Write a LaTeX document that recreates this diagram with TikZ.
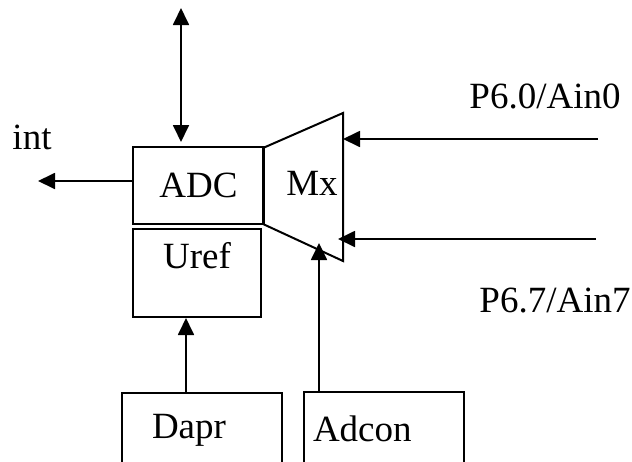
\documentclass[tikz,border=0pt]{standalone}
\usepackage{fontspec}
\setmainfont{Liberation Serif}
\usetikzlibrary{positioning, calc, arrows.meta}

\begin{document}
\begin{tikzpicture}[x=0.5pt, y=-0.5pt, line width=1pt,
   font=\fontsize{18.5}{22}\selectfont,
   arr/.style={-{Triangle[length=8.5pt, width=8pt]}, line width=0.9pt},
   blk/.style={draw, inner sep=0pt}]
   \clip (0,0) rectangle (632,461);

   % Blocks
   \node[blk, minimum width=65.5pt, minimum height=38.5pt] (adc) at (198.5,185.5) {ADC};
   \node[blk, minimum width=64pt, minimum height=44pt] (uref) at (197,273) {};
   \node[anchor=base] (ureft) at (197,268) {Uref};
   \node[blk, minimum width=80pt, minimum height=37pt, text width=50pt, inner xsep=15pt,
         align=left] (dapr) at (202,430) {Dapr};
   \node[blk, minimum width=80pt, minimum height=37pt, text width=71pt, inner xsep=4.5pt,
         align=left] (adcon) at (384,428.5) {Adcon};

   % Multiplexer
   \coordinate (mtl) at (263,148);
   \coordinate (mtr) at (343,113);
   \coordinate (mbr) at (343,261);
   \coordinate (mbl) at (263,224);
   \draw (mtl) -- (mtr) -- (mbr) -- (mbl) -- cycle;
   \node[anchor=base] (mx) at (312,195) {Mx};

   % Free ends
   \coordinate (bus) at (181,8);
   \coordinate (intend) at (38,181);
   \coordinate (pin0) at (598,139);
   \coordinate (pin7) at (596,239);
   \coordinate (adcin) at (319,243);

   % Labels
   \node[anchor=base] (intl) at (32,149) {int};
   \node[anchor=base] (p0l) at (545,108) {P6.0/Ain0};
   \node[anchor=base] (p7l) at (555,312) {P6.7/Ain7};

   % Connectors
   \draw[arr, {Triangle[length=8.5pt, width=8pt]}-{Triangle[length=8.5pt, width=8pt]}]
      (bus) -- (bus |- adc.north) [shorten >=2pt];
   \draw[arr] (adc.west |- intend) -- (intend);
   \draw[arr] (pin0) -- (pin0 -| mtr);
   \draw[arr] (pin7) -- ($(pin7 -| mtr)+(-5,0)$);
   \draw[arr] (adcon.north -| adcin) -- (adcin);
   \draw[arr] (dapr.north -| 186,0) -- (uref.south -| 186,0);
\end{tikzpicture}
\end{document}
